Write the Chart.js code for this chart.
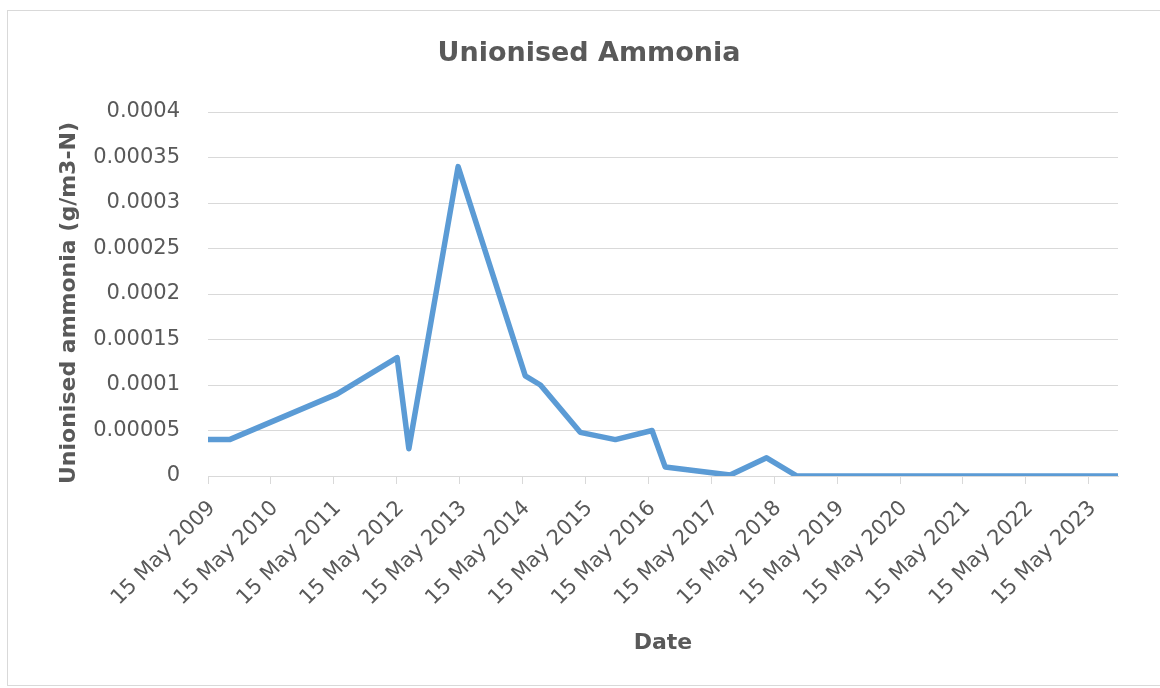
<!DOCTYPE html>
<html>
<head>
<meta charset="utf-8">
<title>Unionised Ammonia</title>
<script src="https://cdn.jsdelivr.net/npm/chart.js@4/dist/chart.umd.min.js"></script>
<style>
  html, body { margin: 0; padding: 0; background: #fff; }
  canvas { display: block; }
</style>
</head>
<body>
<canvas id="ammoniaChart" width="1160" height="688"></canvas>
<script>
// sample dates and unionised ammonia readings (g/m3-N)
const sampleDates = [
  '2009-05-15', '2009-09-17', '2011-06-02', '2012-05-17', '2012-07-24',
  '2013-05-06', '2014-05-31', '2014-08-27', '2015-04-15', '2015-11-05',
  '2016-06-05', '2016-08-20', '2017-09-01', '2018-04-01', '2018-09-24',
  '2019-06-01', '2020-06-01', '2021-06-01', '2022-06-01', '2023-11-01'
]
const ammonia = [
  0.00004, 0.00004, 0.00009, 0.00013, 0.00003,
  0.00034, 0.00011, 0.0001, 0.000048, 0.00004,
  0.00005, 0.00001, 0.000001, 0.00002, 0,
  0, 0, 0, 0, 0
]
// one labelled tick every 15 May
const tickYears = [2009, 2010, 2011, 2012, 2013, 2014, 2015, 2016, 2017, 2018, 2019, 2020, 2021, 2022, 2023]
const months = ['Jan', 'Feb', 'Mar', 'Apr', 'May', 'Jun', 'Jul', 'Aug', 'Sep', 'Oct', 'Nov', 'Dec']

const gray = '#595959'
const gridGray = '#d9d9d9'
const font = 'DejaVu Sans'

const points = sampleDates.map((d, i) => ({ x: Date.parse(d), y: ammonia[i] }))

// white background, light frame, chart title and rotated y title
const frame = {
  id: 'frame',
  beforeDraw: (chart) => {
    const ctx = chart.ctx
    ctx.save()
    ctx.fillStyle = '#fff'
    ctx.fillRect(0, 0, chart.width, chart.height)
    ctx.strokeStyle = gridGray
    ctx.lineWidth = 1
    ctx.strokeRect(7.5, 10.5, 1200, 675)
    ctx.restore()
  },
  afterDraw: (chart) => {
    const ctx = chart.ctx
    ctx.save()
    ctx.fillStyle = gray
    ctx.textAlign = 'center'
    ctx.textBaseline = 'middle'
    ctx.font = `bold 27px "${font}"`
    ctx.fillText('Unionised Ammonia', 589, 54)

    ctx.translate(69, 303)
    ctx.rotate(-Math.PI / 2)
    ctx.font = `bold 22px "${font}"`
    ctx.fillText('Unionised ammonia (g/m3-N)', 0, 0)
    ctx.restore()
  }
}

new Chart(document.getElementById('ammoniaChart').getContext('2d'), {
  type: 'line',
  data: {
    datasets: [{
      label: 'Unionised ammonia',
      data: points,
      borderColor: '#5b9bd5',
      backgroundColor: '#5b9bd5',
      borderWidth: 5.5,
      borderJoinStyle: 'round',
      pointRadius: 0,
      tension: 0
    }]
  },
  options: {
    responsive: false,
    animation: false,
    layout: { padding: { top: 112, right: 42, left: 0, bottom: 0 } },
    plugins: {
      legend: { display: false },
      tooltip: { enabled: false }
    },
    scales: {
      x: {
        type: 'linear',
        min: points[0].x,
        max: points[points.length - 1].x,
        afterBuildTicks: (scale) => {
          scale.ticks = tickYears.map(y => ({ value: Date.UTC(y, 4, 15) }))
        },
        afterFit: (scale) => { scale.height = 212 },
        grid: {
          drawOnChartArea: false,
          drawTicks: true,
          tickLength: 8,
          color: gridGray
        },
        border: { color: gridGray, width: 1 },
        ticks: {
          autoSkip: false,
          maxRotation: 45,
          minRotation: 45,
          padding: 12,
          labelOffset: 4,
          color: gray,
          font: { family: font, size: 21, lineHeight: 1.2 },
          callback: (value) => {
            const d = new Date(value)
            return `${d.getUTCDate()} ${months[d.getUTCMonth()]} ${d.getUTCFullYear()}`
          }
        },
        title: {
          display: true,
          text: 'Date',
          color: gray,
          font: { family: font, size: 22, weight: 'bold', lineHeight: 1.2 },
          padding: { top: 0, bottom: 32 }
        }
      },
      y: {
        min: 0,
        max: 0.0004,
        afterFit: (scale) => { scale.width = 208 },
        grid: { color: gridGray, lineWidth: 1, drawTicks: false },
        border: { display: false },
        ticks: {
          stepSize: 0.00005,
          padding: 28,
          color: gray,
          font: { family: font, size: 21 },
          callback: (value) => value === 0 ? '0' : String(+value.toFixed(5))
        }
      }
    }
  },
  plugins: [frame]
})
</script>
</body>
</html>
